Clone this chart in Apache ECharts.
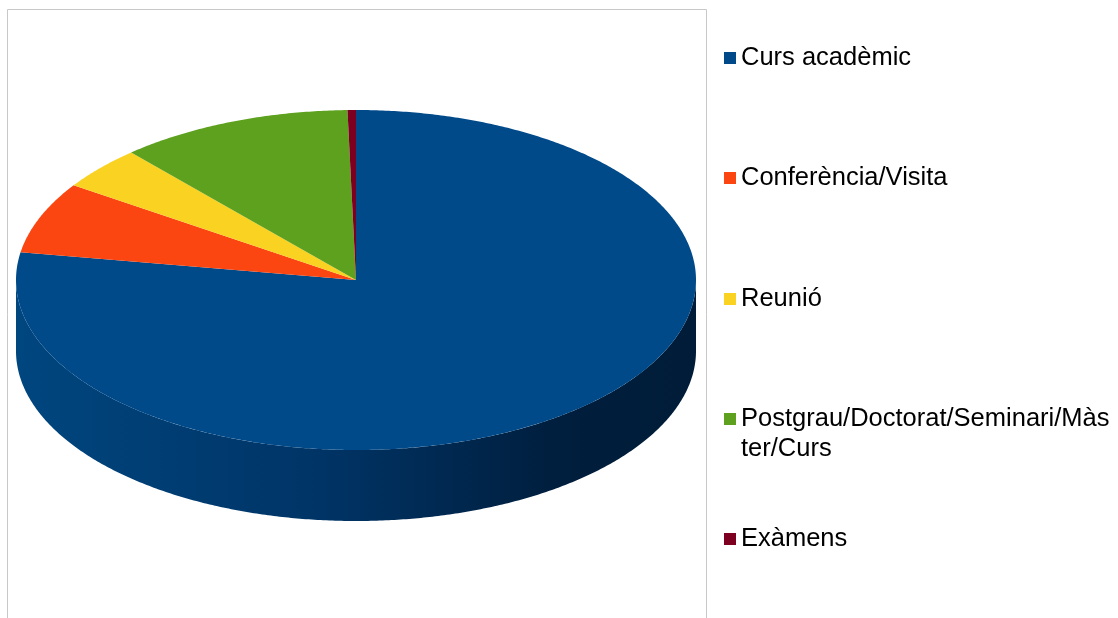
<!DOCTYPE html>
<html><head><meta charset="utf-8">
<script src="https://cdn.jsdelivr.net/npm/echarts@6/dist/echarts.min.js"></script>
<style>html,body{margin:0;padding:0;background:#fff}#c{width:1118px;height:618px}</style>
</head><body><div id="c"></div>
<script>
const categories = ['Curs acadèmic', 'Conferència/Visita', 'Reunió', 'Postgrau/Doctorat/Seminari/Màster/Curs', 'Exàmens'];
const values = [77.6, 6.8, 4.1, 11.1, 0.4];
const colors = ['#004a8a', '#fc4611', '#fad222', '#5ea11f', '#7e0021'];
const sideStops = [[0, '#00467f'], [0.45, '#003466'], [0.8, '#001e3d'], [1, '#001c38']];

const CX = 356, CY = 280, RX = 340, RY = 170, DEPTH = 71;
const total = values.reduce((a, b) => a + b, 0);
function startFrac(i) { let s = 0; for (let k = 0; k < i; k++) s += values[k]; return s / total; }
function pt(t, dy) { return [CX + RX * Math.sin(t), CY - RY * Math.cos(t) + (dy || 0)]; }
function arc(a, b, dy) {
  const n = Math.max(2, Math.ceil(Math.abs(b - a) / (Math.PI / 360)));
  const pts = [];
  for (let j = 0; j <= n; j++) pts.push(pt(a + (b - a) * j / n, dy));
  return pts;
}
function makeRender(i) {
  return function (params, api) {
    const v = api.value(0);
    const a0 = startFrac(i) * 2 * Math.PI;
    const a1 = a0 + v / total * 2 * Math.PI;
    const children = [];
    const s0 = Math.max(a0, Math.PI / 2), s1 = Math.min(a1, 3 * Math.PI / 2);
    if (s1 > s0) {
      const top = arc(s0, s1, 0), bot = arc(s1, s0, DEPTH);
      children.push({
        type: 'polygon', shape: { points: top.concat(bot) },
        style: { fill: { type: 'linear', x: CX - RX, y: 0, x2: CX + RX, y2: 0, global: true,
          colorStops: sideStops.map(s => ({ offset: s[0], color: s[1] })) } }
      });
    }
    children.push({
      type: 'polygon', shape: { points: [[CX, CY]].concat(arc(a0, a1, 0)) },
      style: { fill: api.visual('color') }
    });
    return { type: 'group', children };
  };
}

const legendCenters = [57, 177, 298, 418, 538];
const series = categories.map((name, i) => ({
  type: 'custom', name, coordinateSystem: 'none', silent: true,
  itemStyle: { color: colors[i] },
  data: [values[i]],
  renderItem: makeRender(i)
}));
const legends = categories.map((name, i) => {
  const multi = name.length > 30;
  return {
    data: [name], orient: 'vertical', left: 724,
    top: legendCenters[i] + 1 - (multi ? 45 : 15),
    padding: 0, itemWidth: 12, itemHeight: 12, icon: 'rect', selectedMode: false,
    formatter: n => n.length > 30 ? ' \n' + n.slice(0, 30) + '\n' + n.slice(30) : n,
    textStyle: { fontFamily: 'Liberation Sans', fontSize: 25.5, color: '#000', lineHeight: 30 }
  };
});

const chart = echarts.init(document.getElementById('c'), null, { renderer: 'canvas' });
chart.setOption({
  animation: false,
  backgroundColor: '#fff',
  legend: legends,
  graphic: [{ type: 'rect', silent: true, shape: { x: 7.5, y: 9.5, width: 699, height: 640 },
    style: { fill: 'none', stroke: '#c8c8c8', lineWidth: 1 } }],
  series
});
</script></body></html>
